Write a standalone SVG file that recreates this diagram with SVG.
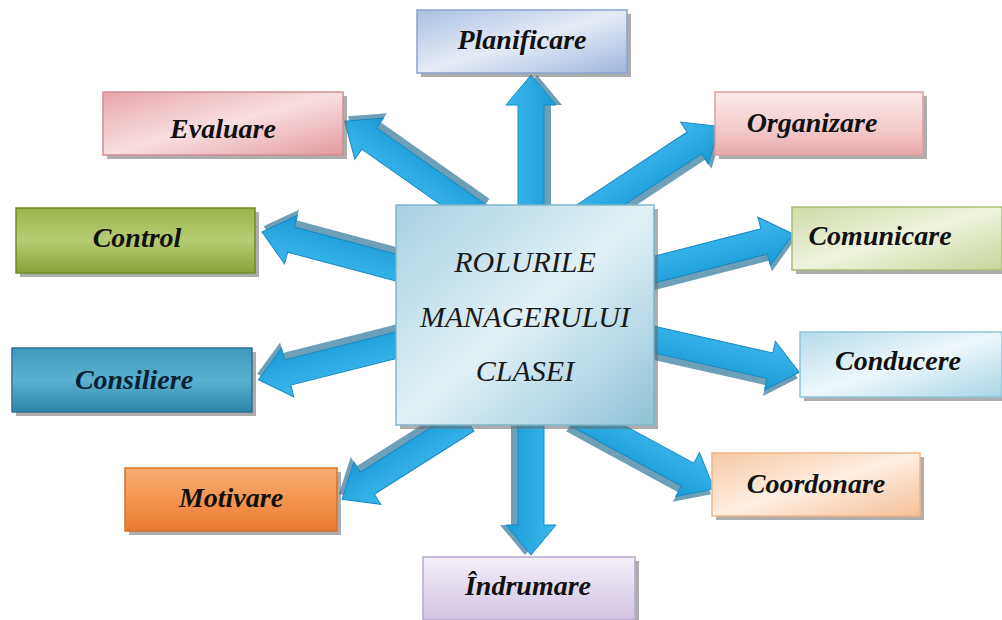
<svg xmlns="http://www.w3.org/2000/svg" width="1002" height="620" viewBox="0 0 1002 620">
<defs>
<linearGradient id="gPlan" x1="0" y1="0" x2="1" y2="1"><stop offset="0" stop-color="#aabfe2"/><stop offset="0.5" stop-color="#e6ecf6"/><stop offset="1" stop-color="#9fb5dc"/></linearGradient>
<linearGradient id="gEval" x1="0" y1="0" x2="1" y2="1"><stop offset="0" stop-color="#e8a4aa"/><stop offset="0.5" stop-color="#f8dfe1"/><stop offset="1" stop-color="#e3999f"/></linearGradient>
<linearGradient id="gOrg" x1="0" y1="0" x2="0" y2="1"><stop offset="0" stop-color="#fbeaea"/><stop offset="0.6" stop-color="#f3caca"/><stop offset="1" stop-color="#e7a9a9"/></linearGradient>
<linearGradient id="gCtrl" x1="0" y1="0" x2="0" y2="1"><stop offset="0" stop-color="#9ab54c"/><stop offset="0.5" stop-color="#b6cc72"/><stop offset="1" stop-color="#88a33a"/></linearGradient>
<linearGradient id="gCom" x1="0" y1="0" x2="1" y2="1"><stop offset="0" stop-color="#cfdca6"/><stop offset="0.5" stop-color="#eef3df"/><stop offset="1" stop-color="#c6d698"/></linearGradient>
<linearGradient id="gCons" x1="0" y1="0" x2="0" y2="1"><stop offset="0" stop-color="#3f98bd"/><stop offset="0.5" stop-color="#5ab1d1"/><stop offset="1" stop-color="#2e84a8"/></linearGradient>
<linearGradient id="gCond" x1="0" y1="0" x2="1" y2="1"><stop offset="0" stop-color="#b4dbe9"/><stop offset="0.5" stop-color="#eef7fb"/><stop offset="1" stop-color="#a9d5e6"/></linearGradient>
<linearGradient id="gMot" x1="0" y1="0" x2="0" y2="1"><stop offset="0" stop-color="#f7ad74"/><stop offset="0.5" stop-color="#f39550"/><stop offset="1" stop-color="#e87a30"/></linearGradient>
<linearGradient id="gCoord" x1="0" y1="0" x2="1" y2="1"><stop offset="0" stop-color="#f8c9a2"/><stop offset="0.5" stop-color="#fdeee2"/><stop offset="1" stop-color="#f6c096"/></linearGradient>
<linearGradient id="gInd" x1="0" y1="0" x2="0" y2="1"><stop offset="0" stop-color="#f4eff8"/><stop offset="1" stop-color="#d2c4e2"/></linearGradient>
<linearGradient id="gCenter" x1="0" y1="0" x2="1" y2="1"><stop offset="0" stop-color="#a6d0e0"/><stop offset="0.5" stop-color="#e2f1f6"/><stop offset="1" stop-color="#8ec3d7"/></linearGradient>
<linearGradient id="gArrow" x1="0" y1="0" x2="0" y2="1"><stop offset="0" stop-color="#3cb8ec"/><stop offset="1" stop-color="#1a9ad6"/></linearGradient>
</defs>
<style>
.sh{fill:#6a6a6a;opacity:0.55}
.box{stroke-width:1.5}
.lbl{font-family:'Liberation Serif','Times New Roman',serif;font-style:italic;font-weight:bold;font-size:28px;fill:#111;text-anchor:middle}
.ctr{font-family:'Liberation Serif','Times New Roman',serif;font-style:italic;font-size:30px;fill:#1a1a1a;text-anchor:middle}
.arr{fill:url(#gArrow);stroke:#1789c0;stroke-width:1}
.arrsh{fill:#0d5f8a;opacity:0.6}
</style>
<rect width="1002" height="620" fill="#ffffff"/>
<g id="connectors">
<g transform="translate(531,215) rotate(-90)"><path class="arrsh" d="M0,-10 L110,-10 L110,-21 L140,4 L110,29 L110,18 L0,18 Z" transform="translate(0,2)"/><path class="arr" d="M0,-13 L110,-13 L110,-25 L140,0 L110,25 L110,13 L0,13 Z"/></g>
<g transform="translate(478,215) rotate(-144.9)"><path class="arrsh" d="M0,-10 L133,-10 L133,-21 L163,4 L133,29 L133,18 L0,18 Z" transform="translate(0,2)"/><path class="arr" d="M0,-13 L133,-13 L133,-25 L163,0 L133,25 L133,13 L0,13 Z"/></g>
<g transform="translate(585,215) rotate(-33.4)"><path class="arrsh" d="M0,-10 L131,-10 L131,-21 L161,4 L131,29 L131,18 L0,18 Z" transform="translate(0,2)"/><path class="arr" d="M0,-13 L131,-13 L131,-25 L161,0 L131,25 L131,13 L0,13 Z"/></g>
<g transform="translate(405,270) rotate(-165.1)"><path class="arrsh" d="M0,-10 L118,-10 L118,-21 L148,4 L118,29 L118,18 L0,18 Z" transform="translate(0,2)"/><path class="arr" d="M0,-13 L118,-13 L118,-25 L148,0 L118,25 L118,13 L0,13 Z"/></g>
<g transform="translate(645,272) rotate(-14.4)"><path class="arrsh" d="M0,-10 L123,-10 L123,-21 L153,4 L123,29 L123,18 L0,18 Z" transform="translate(0,2)"/><path class="arr" d="M0,-13 L123,-13 L123,-25 L153,0 L123,25 L123,13 L0,13 Z"/></g>
<g transform="translate(405,343) rotate(165.9)"><path class="arrsh" d="M0,-10 L121,-10 L121,-21 L151,4 L121,29 L121,18 L0,18 Z" transform="translate(0,2)"/><path class="arr" d="M0,-13 L121,-13 L121,-25 L151,0 L121,25 L121,13 L0,13 Z"/></g>
<g transform="translate(647,338) rotate(12.7)"><path class="arrsh" d="M0,-10 L126,-10 L126,-21 L156,4 L126,29 L126,18 L0,18 Z" transform="translate(0,2)"/><path class="arr" d="M0,-13 L126,-13 L126,-25 L156,0 L126,25 L126,13 L0,13 Z"/></g>
<g transform="translate(467,420) rotate(147.6)"><path class="arrsh" d="M0,-10 L118,-10 L118,-21 L148,4 L118,29 L118,18 L0,18 Z" transform="translate(0,2)"/><path class="arr" d="M0,-13 L118,-13 L118,-25 L148,0 L118,25 L118,13 L0,13 Z"/></g>
<g transform="translate(531,415) rotate(90)"><path class="arrsh" d="M0,-10 L110,-10 L110,-21 L140,4 L110,29 L110,18 L0,18 Z" transform="translate(0,2)"/><path class="arr" d="M0,-13 L110,-13 L110,-25 L140,0 L110,25 L110,13 L0,13 Z"/></g>
<g transform="translate(576,414) rotate(28.5)"><path class="arrsh" d="M0,-10 L127,-10 L127,-21 L157,4 L127,29 L127,18 L0,18 Z" transform="translate(0,2)"/><path class="arr" d="M0,-13 L127,-13 L127,-25 L157,0 L127,25 L127,13 L0,13 Z"/></g>
</g>
<g id="center">
<rect class="sh" x="400" y="209" width="258" height="220"/>
<rect class="box" x="396" y="205" width="258" height="220" fill="url(#gCenter)" stroke="#7fb5cb"/>
<text class="ctr" x="525" y="272">ROLURILE</text>
<text class="ctr" x="525" y="327">MANAGERULUI</text>
<text class="ctr" x="525" y="381">CLASEI</text>
</g>
<g id="planificare">
<rect class="sh" x="421" y="14" width="210" height="63"/>
<rect class="box" x="417" y="10" width="210" height="63" fill="url(#gPlan)" stroke="#8ba2cc"/>
<text class="lbl" x="522" y="49">Planificare</text>
</g>
<g id="evaluare">
<rect class="sh" x="107" y="96" width="240" height="63"/>
<rect class="box" x="103" y="92" width="240" height="63" fill="url(#gEval)" stroke="#d08e94"/>
<text class="lbl" x="223" y="138">Evaluare</text>
</g>
<g id="organizare">
<rect class="sh" x="719" y="96" width="208" height="63"/>
<rect class="box" x="715" y="92" width="208" height="63" fill="url(#gOrg)" stroke="#d9a0a0"/>
<text class="lbl" x="812" y="132">Organizare</text>
</g>
<g id="control">
<rect class="sh" x="20" y="212" width="239" height="65"/>
<rect class="box" x="16" y="208" width="239" height="65" fill="url(#gCtrl)" stroke="#6e8a28"/>
<text class="lbl" x="137" y="247">Control</text>
</g>
<g id="comunicare">
<rect class="sh" x="796" y="211" width="210" height="63"/>
<rect class="box" x="792" y="207" width="210" height="63" fill="url(#gCom)" stroke="#a8bd78"/>
<text class="lbl" x="880" y="245">Comunicare</text>
</g>
<g id="consiliere">
<rect class="sh" x="16" y="352" width="240" height="64"/>
<rect class="box" x="12" y="348" width="240" height="64" fill="url(#gCons)" stroke="#2a7497"/>
<text class="lbl" x="134" y="389" style="fill:#0b1f33">Consiliere</text>
</g>
<g id="conducere">
<rect class="sh" x="804" y="336" width="202" height="65"/>
<rect class="box" x="800" y="332" width="202" height="65" fill="url(#gCond)" stroke="#8fc3d6"/>
<text class="lbl" x="898" y="370">Conducere</text>
</g>
<g id="motivare">
<rect class="sh" x="129" y="472" width="212" height="63"/>
<rect class="box" x="125" y="468" width="212" height="63" fill="url(#gMot)" stroke="#d96f28"/>
<text class="lbl" x="231" y="507">Motivare</text>
</g>
<g id="indrumare">
<rect class="sh" x="427" y="561" width="212" height="63"/>
<rect class="box" x="423" y="557" width="212" height="63" fill="url(#gInd)" stroke="#b7a6cd"/>
<text class="lbl" x="528" y="595">Îndrumare</text>
</g>
<g id="coordonare">
<rect class="sh" x="716" y="457" width="208" height="63"/>
<rect class="box" x="712" y="453" width="208" height="63" fill="url(#gCoord)" stroke="#efb58a"/>
<text class="lbl" x="816" y="493">Coordonare</text>
</g>
</svg>
